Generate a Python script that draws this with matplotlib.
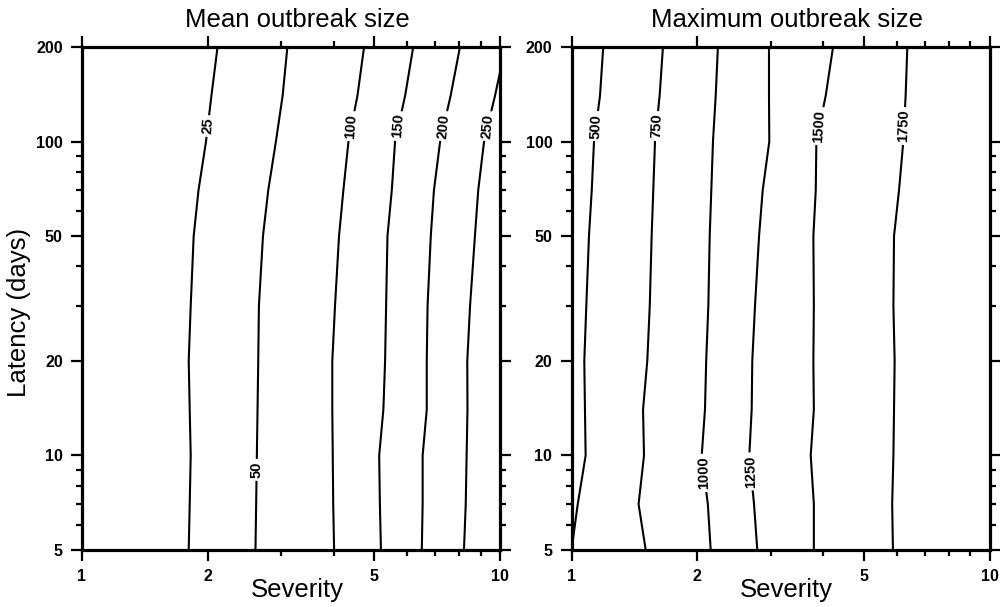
import numpy as np
import matplotlib
matplotlib.use('Agg')
import matplotlib.pyplot as plt
from matplotlib.ticker import FixedLocator, NullFormatter, FixedFormatter

plt.rcParams['font.family'] = ['Liberation Sans', 'DejaVu Sans']

# latency grid (days) at which each contour's severity was read
latency = [5, 7, 10, 14, 20, 30, 50, 70, 100, 140, 200]

# mean outbreak size contours: severity at each latency
mean_25 = [1.80, 1.81, 1.82, 1.81, 1.80, 1.82, 1.85, 1.90, 1.98, 2.04, 2.11]
mean_50 = [2.60, 2.61, 2.62, 2.63, 2.64, 2.65, 2.71, 2.79, 2.91, 3.02, 3.10]
mean_100 = [4.01, 3.99, 3.98, 3.97, 3.97, 4.03, 4.12, 4.22, 4.34, 4.56, 4.73]
mean_150 = [5.19, 5.16, 5.14, 5.26, 5.31, 5.34, 5.38, 5.51, 5.61, 5.93, 6.20]
mean_200 = [6.50, 6.53, 6.53, 6.68, 6.68, 6.71, 6.83, 6.95, 7.19, 7.62, 8.02]
mean_250 = [8.20, 8.28, 8.32, 8.36, 8.35, 8.48, 8.71, 8.87, 9.16, 9.73, 10.3]

# maximum outbreak size contours
max_500 = [1.00, 1.035, 1.081, 1.077, 1.073, 1.085, 1.101, 1.118, 1.132, 1.170, 1.191]
max_750 = [1.505, 1.447, 1.491, 1.483, 1.518, 1.539, 1.555, 1.569, 1.584, 1.625, 1.655]
max_1000 = [2.153, 2.119, 2.049, 2.086, 2.100, 2.125, 2.141, 2.160, 2.180, 2.213, 2.240]
max_1250 = [2.783, 2.733, 2.663, 2.698, 2.707, 2.748, 2.810, 2.867, 2.973, 2.968, 2.968]
max_1500 = [3.800, 3.800, 3.735, 3.800, 3.790, 3.800, 3.790, 3.840, 3.853, 4.057, 4.224]
max_1750 = [5.875, 5.850, 5.890, 5.910, 5.930, 5.890, 5.910, 6.075, 6.220, 6.300, 6.360]

# (level, severities, latency where the label sits)
mean_lines = [(25, mean_25, 112), (50, mean_50, 9.0), (100, mean_100, 112),
              (150, mean_150, 112), (200, mean_200, 112), (250, mean_250, 112)]
max_lines = [(500, max_500, 112), (750, max_750, 112), (1000, max_1000, 8.8),
             (1250, max_1250, 8.9), (1500, max_1500, 112), (1750, max_1750, 112)]

x_major = [1, 2, 5, 10]
x_minor = [3, 4, 6, 7, 8, 9]
y_major = [5, 10, 20, 50, 100, 200]
y_minor = [6, 7, 8, 9, 30, 40, 60, 70, 80, 90]


def setup_axes(ax):
    ax.set_xscale('log')
    ax.set_yscale('log')
    ax.set_xlim(1, 10)
    ax.set_ylim(5, 200)
    ax.xaxis.set_major_locator(FixedLocator(x_major))
    ax.xaxis.set_major_formatter(FixedFormatter([str(v) for v in x_major]))
    ax.xaxis.set_minor_locator(FixedLocator(x_minor))
    ax.xaxis.set_minor_formatter(NullFormatter())
    ax.yaxis.set_major_locator(FixedLocator(y_major))
    ax.yaxis.set_major_formatter(FixedFormatter([str(v) for v in y_major]))
    ax.yaxis.set_minor_locator(FixedLocator(y_minor))
    ax.yaxis.set_minor_formatter(NullFormatter())
    for s in ax.spines.values():
        s.set_linewidth(2.3)
    ax.tick_params(which='both', direction='out', top=True, right=True, width=1.6)
    ax.tick_params(which='major', length=7.8, pad=6, labelsize=11.5)
    ax.tick_params(which='minor', length=4.2)
    for lab in ax.get_xticklabels() + ax.get_yticklabels():
        lab.set_fontweight('bold')


def draw_contours(ax, lines):
    ly = np.log10(latency)
    for level, sev, lab_lat in lines:
        ax.plot(sev, latency, color='black', lw=1.5, zorder=2)
        lx = np.log10(sev)
        t = np.log10(lab_lat)
        xl = 10 ** np.interp(t, ly, lx)
        i = np.searchsorted(ly, t)
        j0, j1 = max(i - 2, 0), min(i + 1, len(latency) - 1)
        p0 = ax.transData.transform((sev[j0], latency[j0]))
        p1 = ax.transData.transform((sev[j1], latency[j1]))
        ang = np.degrees(np.arctan2(p1[1] - p0[1], p1[0] - p0[0]))
        # labels in the original lean only slightly off vertical
        ang = 90 - 0.5 * (90 - ang)
        ax.text(xl, lab_lat, str(level), rotation=ang, rotation_mode='anchor',
                ha='center', va='center', fontsize=10.5, fontweight='bold', zorder=3,
                bbox=dict(facecolor='white', edgecolor='none', pad=2.0))


fig = plt.figure(figsize=(10, 6.07), dpi=100)
ax1 = fig.add_axes([0.082, 0.0939, 0.418, 0.8287])
ax2 = fig.add_axes([0.5715, 0.0939, 0.418, 0.8287])

for ax, lines, title in [(ax1, mean_lines, 'Mean outbreak size'),
                         (ax2, max_lines, 'Maximum outbreak size')]:
    setup_axes(ax)
    draw_contours(ax, lines)
    ax.text(0.515, 1.04, title, transform=ax.transAxes, ha='center',
            va='baseline', fontsize=18.5)
    ax.text(0.515, -0.094, 'Severity', transform=ax.transAxes, ha='center',
            va='baseline', fontsize=18.5)

fig.text(0.019, 0.486, 'Latency (days)', rotation=90, ha='center', va='center',
         fontsize=18.5)

fig.savefig('out.png', dpi=100)
